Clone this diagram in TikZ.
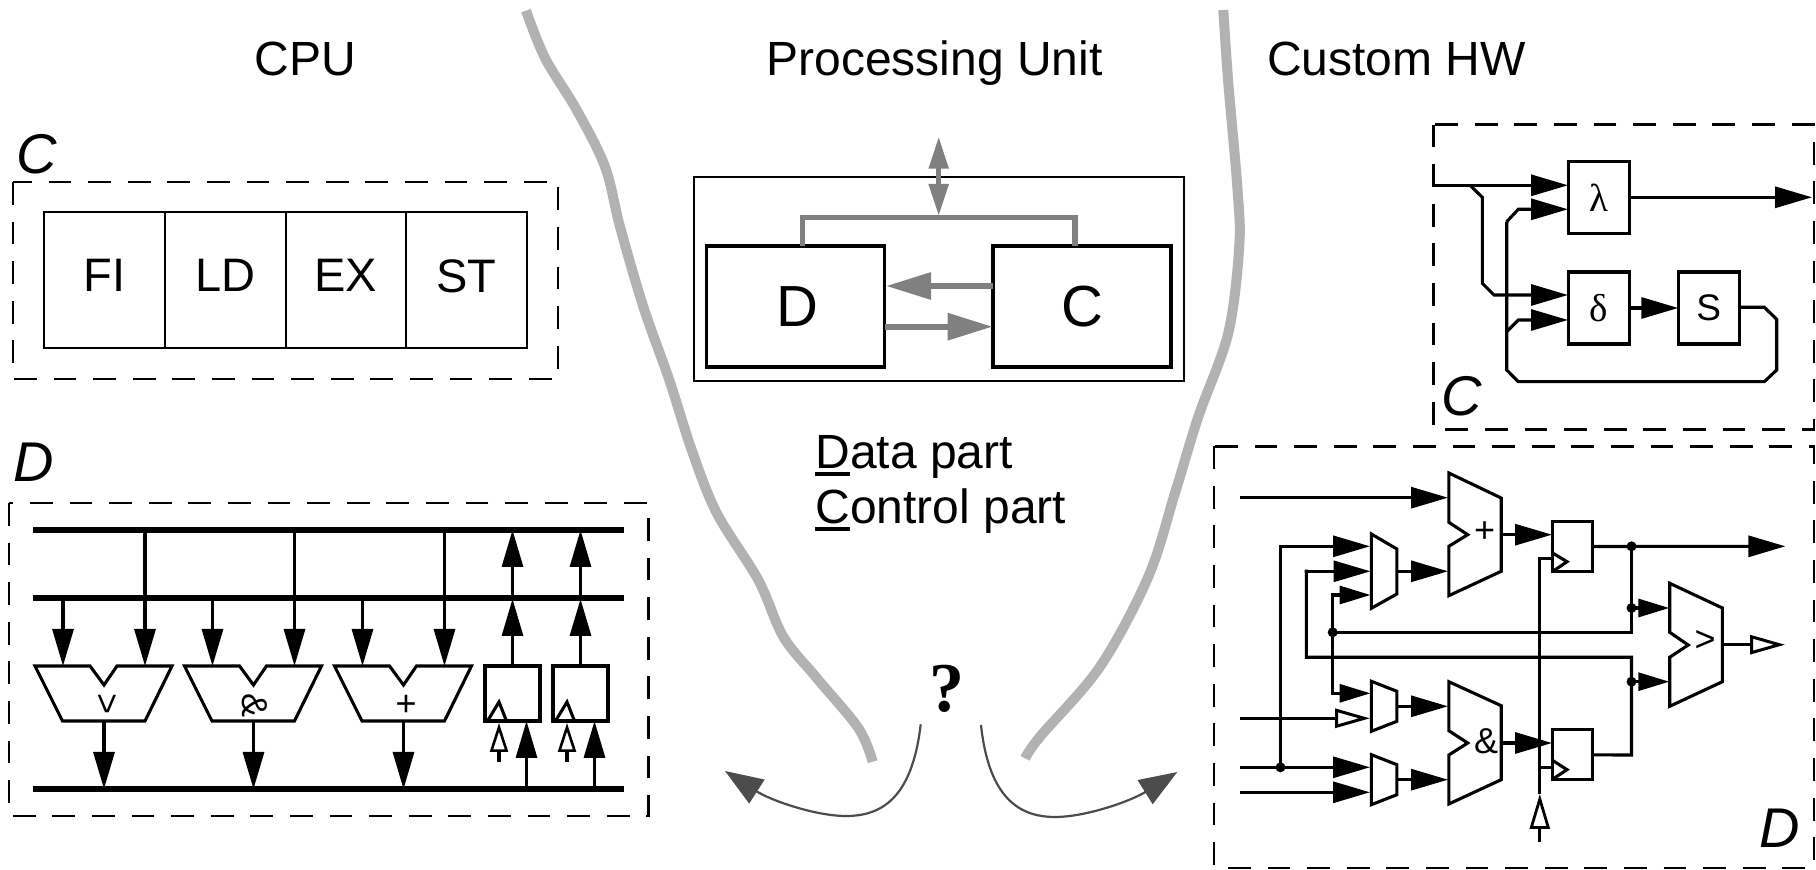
\documentclass[tikz,border=0pt]{standalone}
\usepackage{fontspec}
\setmainfont{Liberation Sans}
\newfontfamily\serifx{Liberation Serif}
\usetikzlibrary{arrows.meta}
\newcommand{\ulined}[1]{\rlap{\rule[-3.85pt]{17.4pt}{2pt}}#1}
\tikzset{
  px/.style={x=0.5pt,y=-0.5pt},
  thin line/.style={line width=1.55pt,line join=miter},
  solid head/.style={-{Triangle[length=18.5pt,width=10.5pt]}},
  small head/.style={-{Triangle[length=15.5pt,width=9pt]}},
  open head/.style={-{Triangle[open,fill=white,length=17.5pt,width=9.5pt,line width=1.5pt]}},
  up open head/.style={-{Triangle[open,fill=white,length=14.5pt,width=9pt,line width=1.3pt]}},
  dashbox/.style={dash pattern=on 11.4pt off 8.4pt,line width=1.15pt},
  bus/.style={line width=3pt},
  reg/.style={draw,line width=1.55pt,inner sep=0pt,outer sep=0pt,fill=white},
  unitbox/.style={draw,line width=1.6pt,inner sep=0pt,outer sep=0pt,minimum width=89pt,minimum height=60.5pt,font=\fontsize{29pt}{30pt}\selectfont},
  stagebox/.style={draw,line width=1pt,inner sep=0pt,outer sep=0pt,minimum width=60.4pt,minimum height=68pt,font=\fontsize{23.5pt}{26pt}\selectfont},
  grayline/.style={draw=black!50,line width=2.6pt},
  wall/.style={draw=black!30,line width=5pt,line cap=butt},
  choice/.style={draw=black!70,line width=1.1pt,-{Triangle[length=19pt,width=14pt]}},
  hlabel/.style={anchor=base,font=\fontsize{24pt}{26pt}\selectfont,inner sep=0pt},
  partlabel/.style={font=\fontsize{28pt}{30pt}\itshape\selectfont,inner sep=0pt},
  oplabel/.style={font=\fontsize{18pt}{20pt}\selectfont,inner sep=0pt},
  dot/.style={circle,fill=black,inner sep=0pt,minimum size=5pt},
}
\begin{document}
\begin{tikzpicture}[px]
\useasboundingbox (0,0) rectangle (1816,870);

% ---------- headings
\node[hlabel] (hcpu) at (305.6,75.5) {CPU};
\node[hlabel] (hpu) at (934.5,75.5) {Processing Unit};
\node[hlabel] (hhw) at (1396.6,75.5) {Custom HW};

% ---------- separating walls
\draw[wall] plot[smooth,tension=.55] coordinates {(526,10.7) (545,58) (576.7,110) (605,166.7) (620,226.7) (643.3,306.7) (669.3,380) (691.7,450) (716.7,513) (758.3,580) (783.3,636.7) (816.7,678) (858.3,728) (872.7,761.7)};
\draw[wall] plot[smooth,tension=.55] coordinates {(1223.3,10) (1228.3,83) (1237.3,186.7) (1239.3,245) (1228.3,333) (1198.3,416.7) (1175,493) (1148.3,576.7) (1100,666.7) (1040,736.7) (1025,758.3)};

% ---------- CPU control
\node[partlabel] (lC) at (37,154) {C};
\draw[dashbox] (13,182) rectangle (558,379);
\node[stagebox] (fi) at (104.4,279.7) {\raisebox{4pt}{FI}};
\node[stagebox] (ld) at (225.1,279.7) {\raisebox{4pt}{LD}};
\node[stagebox] (ex) at (345.9,279.7) {\raisebox{4pt}{EX}};
\node[stagebox] (st) at (466.6,279.7) {\raisebox{4pt}{ST}};

% ---------- CPU data
\begin{scope}[yshift=0.5pt]
\node[partlabel] (lD) at (33.6,463) {D};
\draw[dashbox] (9,504) rectangle (648.5,817);
\coordinate (b1w) at (33,531); \coordinate (b1e) at (624,531);
\coordinate (b2w) at (33,599); \coordinate (b2e) at (624,599);
\coordinate (b3w) at (33,790); \coordinate (b3e) at (624,790);
\draw[bus] (b1w)--(b1e);
\draw[bus] (b2w)--(b2e);
\draw[bus] (b3w)--(b3e);
\foreach \dx/\op/\oy [count=\i] in {0/>/705,149.5/\&/707,299.5/+/705}{
  \begin{scope}[xshift=\dx*0.5pt]
    \draw[thin line] (35,667)--(90,667)--(104,686)--(117,667)--(172,667)--(145,722)--(62.5,722)--cycle;
    \coordinate (a\i) at (63,667);
    \coordinate (aa\i) at (145,667);
    \coordinate (ab\i) at (63,599);
    \coordinate (aab\i) at (145,531);
    \coordinate (ao\i) at (104,722);
    \coordinate (aob\i) at (104,790);
    \node[oplabel,rotate=-90] (opl\i) at (105.5,\oy) {\op};
    \draw[thin line,solid head] (ab\i)--(a\i);
    \draw[thin line,solid head] (aab\i)--(aa\i);
    \draw[thin line,solid head] (ao\i)--(aob\i);
  \end{scope}
}
\foreach \rx/\i in {512.5/1,580.5/2}{
  \node[reg,minimum width=27.5pt,minimum height=27.5pt] (rg\i) at (\rx,694.5) {};
  \draw[thin line] (\rx-25,722)--(\rx-13.5,703)--(\rx-6,722);
  \coordinate (rb1\i) at (\rx,531);
  \coordinate (rb2\i) at (\rx,600);
  \draw[thin line,solid head] (rg\i.north)--(rb2\i);
  \draw[thin line,solid head] (rb2\i)--(rb1\i);
  \coordinate (cki\i) at (\rx-13.5,763);
  \coordinate (ckt\i) at (\rx-13.5,724);
  \draw[thin line,up open head] (cki\i)--(ckt\i);
  \coordinate (dti\i) at (\rx+14,790);
  \coordinate (dtt\i) at (\rx+14,722);
  \draw[thin line,solid head] (dti\i)--(dtt\i);
}
\end{scope}

% ---------- processing unit
\node[draw,line width=1pt,minimum width=245pt,minimum height=102pt,inner sep=0pt,outer sep=0pt] (pu) at (939,279) {};
\node[unitbox] (ud) at (795.5,306.5) {\hspace*{1.5pt}D};
\node[unitbox] (uc) at (1082,306.5) {C};
\coordinate (ubl) at (802.7,217.7); \coordinate (ubr) at (1075,217.7);
\draw[grayline] (802.7,245.7)--(ubl)--(ubr)--(1075,245.7);
\coordinate (ioT) at (938.7,136.7); \coordinate (ioB) at (938.7,216);
\draw[draw=black!50,line width=2.6pt,{Triangle[length=16pt,width=9.5pt]}-{Triangle[length=16pt,width=9.5pt]},color=black!50] (ioT)--(ioB);
\coordinate (c2d) at (993,286); \coordinate (c2dt) at (886,286);
\draw[color=black!50,line width=3pt,-{Triangle[length=22.5pt,width=13pt]}] (c2d)--(c2dt);
\coordinate (d2c) at (885,326.7); \coordinate (d2ct) at (992.7,326.7);
\draw[color=black!50,line width=3pt,-{Triangle[length=22.5pt,width=13pt]}] (d2c)--(d2ct);

\node[anchor=base west,font=\fontsize{24pt}{26pt}\selectfont,inner sep=0pt] (dp) at (815,468.5) {\ulined{D}ata part};
\node[anchor=base west,font=\fontsize{24pt}{26pt}\selectfont,inner sep=0pt] (cp) at (815,523.5) {\ulined{C}ontrol part};

% ---------- question
\node[font=\serifx\bfseries\fontsize{35pt}{36pt}\selectfont,inner sep=0pt] (q) at (946.7,689) {?};
\coordinate (qls) at (920.7,724.3); \coordinate (qlt) at (725,771);
\coordinate (qrs) at (981,725); \coordinate (qrt) at (1177.3,772);
\draw[choice] (qls) .. controls (912,800) and (880,816) .. (846,816) .. controls (815,816) and (770,800) .. (qlt);
\draw[choice] (qrs) .. controls (989,800) and (1021,817) .. (1055,817) .. controls (1086,817) and (1131,801) .. (qrt);

% ---------- HW control
\draw[dashbox,line width=1.4pt] (1433.3,124.7) rectangle (1814,429.5);
\node[partlabel] (rC) at (1461.7,396.7) {C};
\node[reg,minimum width=30.5pt,minimum height=36pt,font=\serifx\fontsize{19.5pt}{20pt}\selectfont] (lam) at (1598.8,197.8) {λ};
\node[reg,minimum width=30.5pt,minimum height=36pt,font=\serifx\fontsize{19.5pt}{20pt}\selectfont] (del) at (1598.8,308) {δ};
\node[reg,minimum width=30.5pt,minimum height=36pt,font=\fontsize{18.5pt}{20pt}\selectfont] (ess) at (1708.8,308) {S};
\coordinate (ci) at (1432.3,185.3); \coordinate (lam1) at (1568,185.3);
\coordinate (lam2) at (1568,209.3); \coordinate (del1) at (1568,295); \coordinate (del2) at (1568,320);
\coordinate (lamo) at (1812,197.3);
\draw[thin line,solid head] (ci)--(lam1);
\draw[thin line,solid head] (1470,185.3)--(1482.3,197.3)--(1482.3,283.3)--(1494,295)--(del1);
\draw[thin line,solid head] (1506.7,221.7)--(1518.3,209.3)--(lam2);
\draw[thin line,solid head] (1506.7,331.7)--(1518.3,320)--(del2);
\draw[thin line] (1506.7,221.7)--(1506.7,370)--(1518.3,381.7)--(1764.3,381.7)--(1776.7,370)--(1776.7,319.3)--(1764.3,307.3)--(ess.east|-1764.3,307.3);
\draw[thin line,solid head] (lam.east|-lamo)--(lamo);
\draw[thin line,solid head] (del.east)--(ess.west);

% ---------- HW data
\begin{scope}[yshift=0.5pt]
\draw[dashbox,line width=1.3pt] (1214,447.3) rectangle (1814,869);
\node[partlabel] (rD) at (1779.5,829.3) {D};
\draw[thin line] (1448.8,474)--(1501.2,499)--(1501.2,572.3)--(1448.8,596.7)--(1448.8,547.3)--(1467.7,535.7)--(1448.8,523.3)--cycle;
\draw[thin line] (1448.8,682.7)--(1501.2,706.7)--(1501.2,780.7)--(1448.8,805)--(1448.8,756)--(1467.7,744)--(1448.8,731.7)--cycle;
\draw[thin line] (1669.7,584.3)--(1722.4,609)--(1722.4,682.7)--(1669.7,707.3)--(1669.7,658.3)--(1688.2,646)--(1669.7,633.3)--cycle;
\node[oplabel] (opa) at (1484.6,533.3) {+};
\node[oplabel] (opb) at (1486.2,742.3) {\&};
\node[oplabel] (opc) at (1705.1,642.3) {>};
\draw[thin line] (1371.3,535)--(1396.9,550)--(1396.9,595)--(1371.3,609.3)--cycle;
\draw[thin line] (1371.3,682.3)--(1396.9,692.3)--(1396.9,722.3)--(1371.3,732.3)--cycle;
\draw[thin line] (1371.3,755.7)--(1396.9,765.7)--(1396.9,795.7)--(1371.3,805.7)--cycle;
\node[reg,minimum width=20pt,minimum height=25pt] (r1) at (1572.4,547.5) {};
\node[reg,minimum width=20pt,minimum height=25pt] (r2) at (1572.4,755.9) {};
\draw[thin line] (1553,554.3)--(1567,562.7)--(1553,572.3);
\draw[thin line] (1553,761.7)--(1567,770.7)--(1553,780);
% dots
\node[dot] (d1) at (1631.5,547.3) {};
\node[dot] (d2) at (1631.5,609) {};
\node[dot] (d3) at (1631.5,682.7) {};
\node[dot] (d4) at (1332.7,633.3) {};
\node[dot] (d5) at (1280.5,768.3) {};
% wires
\coordinate (i1) at (1240.2,498.7); \coordinate (i1t) at (1448,498.7);
\draw[thin line,solid head] (i1)--(i1t);
\draw[thin line,solid head] (1501.2,535.7)--(1552,535.7);
\draw[thin line,solid head] (1501.2,744)--(1552,744);
\draw[thin line,solid head] (r1.east)--(1785.4,547.3);
\draw[thin line] (d1.center)--(1631.5,633.3)--(d4.center);
\draw[thin line] (r2.east)--(1631.5,756)--(1631.5,658.3)--(1306.3,658.3)--(1306.3,572.3)--(1304.5,572.3);
\draw[thin line,solid head] (1306.3,572.3)--(1370.5,572.3);
\draw[thin line,small head] (d2.center)--(1669.3,609);
\draw[thin line,small head] (d3.center)--(1669.3,682.7);
\draw[thin line,solid head] (d5.center)--(1280.5,547.3)--(1370,547.3);
\draw[thin line] (1330.5,596)--(1332.7,596)--(1332.7,694.3)--(1330.5,694.3);
\draw[thin line,small head] (1332.7,596)--(1370.5,596);
\draw[thin line,small head] (1332.7,694.3)--(1370.5,694.3);
\draw[thin line,solid head] (1240.2,768.3)--(1370,768.3);
\draw[thin line,solid head] (1240.2,793.3)--(1370,793.3);
\draw[thin line,open head] (1240.2,719.3)--(1370,719.3);
\draw[thin line,solid head] (1396.9,572.3)--(1448,572.3);
\draw[thin line,solid head] (1396.9,707.3)--(1448,707.3);
\draw[thin line,solid head] (1396.9,780.7)--(1448,780.7);
\draw[thin line,open head] (1722.4,645.7)--(1785,645.7);
\draw[thin line] (1553,559.3)--(1539.8,559.3)--(1539.8,795);
\draw[thin line] (1539.8,768.3)--(1553,768.3);
\draw[thin line,-{Triangle[open,fill=white,length=17.5pt,width=10pt,line width=1.4pt]}] (1539.8,843.3)--(1539.8,795);
\end{scope}
\end{tikzpicture}
\end{document}
